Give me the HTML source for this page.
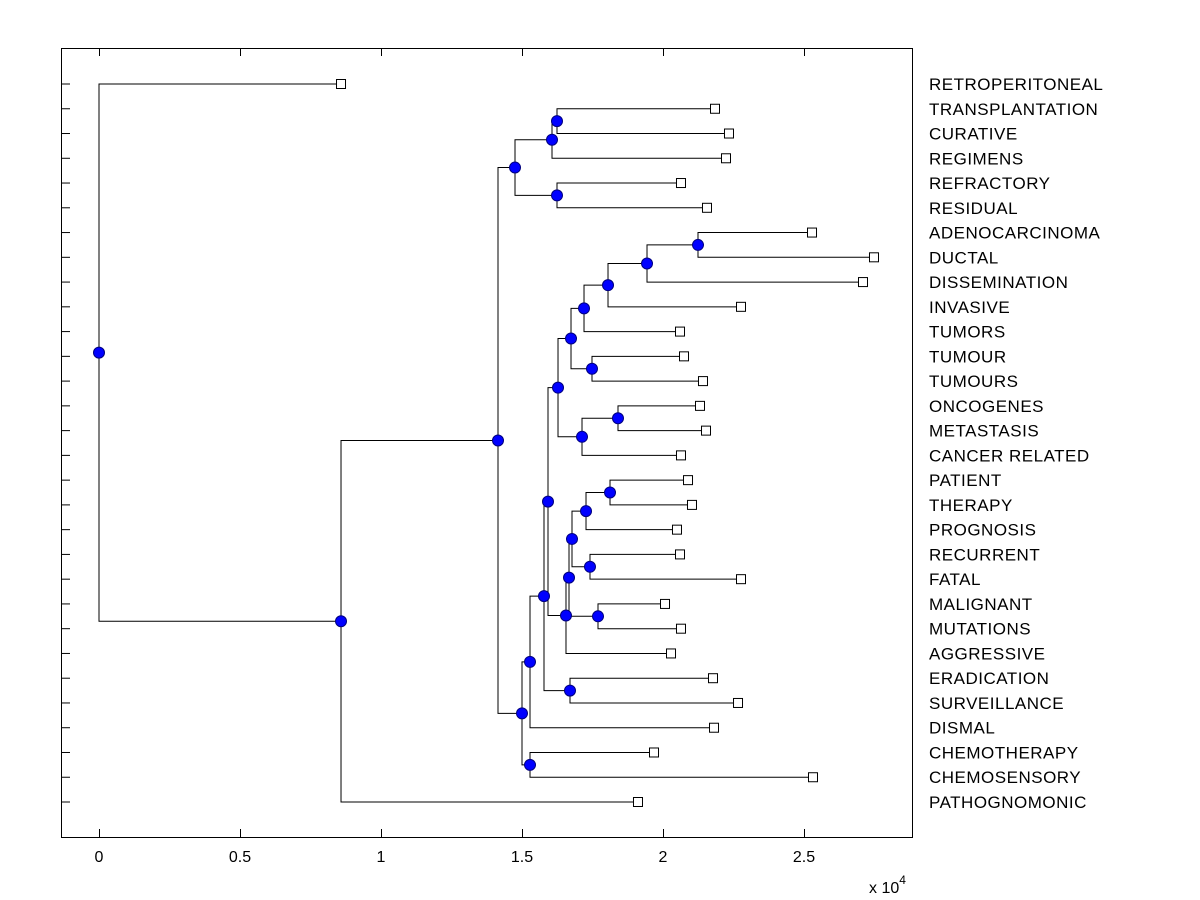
<!DOCTYPE html>
<html><head><meta charset="utf-8"><style>
body{margin:0;background:#fff;}
svg{display:block;font-family:"Liberation Sans",Arial,sans-serif;}
</style></head><body>
<svg id="chart" width="1200" height="900" viewBox="0 0 1200 900">
<rect x="0" y="0" width="1200" height="900" fill="#fff"/>
<g id="lines"></g>
<g id="marks"></g>
<g id="axes"></g>
</svg>
<script>
const leafLabels = ["RETROPERITONEAL","TRANSPLANTATION","CURATIVE","REGIMENS","REFRACTORY","RESIDUAL","ADENOCARCINOMA","DUCTAL","DISSEMINATION","INVASIVE","TUMORS","TUMOUR","TUMOURS","ONCOGENES","METASTASIS","CANCER RELATED","PATIENT","THERAPY","PROGNOSIS","RECURRENT","FATAL","MALIGNANT","MUTATIONS","AGGRESSIVE","ERADICATION","SURVEILLANCE","DISMAL","CHEMOTHERAPY","CHEMOSENSORY","PATHOGNOMONIC"];
const leafValues = [8582,21844,22340,22234,20638,21560,25284,27482,27092,22766,20603,20745,21418,21312,21525,20638,20887,21028,20496,20603,22766,20071,20638,20284,21773,22660,21809,19681,25319,19113];
const nodeNames = ["a","b","c","d","e","f","g","h","i","j","k","l","m","n","o","p","q","r","s","t","u","v","w","x","y","z","aa","bb","root"];
const nodeChildren = [[1,2],["a",3],[4,5],["b","c"],[6,7],["e",8],["f",9],["g",10],[11,12],["h","i"],[13,14],["k",15],["j","l"],[16,17],["n",18],[19,20],["o","p"],[21,22],["q","r"],["s",23],["m","t"],[24,25],["u","v"],["w",26],[27,28],["x","y"],["d","z"],["aa",29],[0,"bb"]];
const nodeValues = [16241,16064,16241,14752,21241,19433,18050,17199,17482,16738,18404,17128,16277,18121,17270,17411,16773,17695,16667,16560,15922,16702,15780,15284,15284,15000,14149,8582,0];
const xTicks = [0,5000,10000,15000,20000,25000];
const xTickLabels = ["0","0.5","1","1.5","2","2.5"];

const NS="http://www.w3.org/2000/svg";
const X0=61,X1=912,Y0=48,Y1=837;
const xs=v=>99+v*282/10000;
const ys=i=>84+i*(802-84)/29;
function mk(tag,attrs,parent){const e=document.createElementNS(NS,tag);for(const k in attrs)e.setAttribute(k,attrs[k]);parent.appendChild(e);return e;}
const L=document.getElementById('lines'),M=document.getElementById('marks'),A=document.getElementById('axes');
const pos={};
leafValues.forEach((v,i)=>{pos[i]={x:xs(v),y:ys(i)};});
nodeNames.forEach((n,k)=>{
  const [c1,c2]=nodeChildren[k];const p1=pos[c1],p2=pos[c2];
  const x=xs(nodeValues[k]);const y=(p1.y+p2.y)/2;pos[n]={x,y};
  const pth=mk('path',{d:`M${p1.x},${p1.y}H${x}V${p2.y}H${p2.x}`,fill:'none',stroke:'#000','stroke-width':1},L);
  
  
});
leafValues.forEach((v,i)=>{
  const r=mk('rect',{x:xs(v)-4.5,y:ys(i)-4.5,width:9,height:9,fill:'#fff',stroke:'#000','stroke-width':1},M);
  
  
  const t=mk('text',{x:929,y:ys(i)+6,'font-size':17,'letter-spacing':0.5,fill:'#000'},A);
  t.textContent=leafLabels[i];
  
  
  const tk=mk('line',{x1:X0,x2:X0+9,y1:ys(i),y2:ys(i),stroke:'#000'},A);
  
  
});
nodeNames.forEach(n=>{
  const c=mk('circle',{cx:pos[n].x,cy:pos[n].y,r:5.5,fill:'#0000ff',stroke:'#00007f','stroke-width':1},M);
  
  
});
const box=mk('rect',{x:X0+0.5,y:Y0+0.5,width:X1-X0,height:Y1-Y0,fill:'none',stroke:'#000'},A);


xTicks.forEach((v,i)=>{
  const x=Math.round(xs(v))+0.5;
  const t1=mk('line',{x1:x,x2:x,y1:Y1,y2:Y1-8,stroke:'#000'},A);
  
  
  const t2=mk('line',{x1:x,x2:x,y1:Y0,y2:Y0+8,stroke:'#000'},A);
  
  
  const tl=mk('text',{x:xs(v),y:862,'font-size':16,'text-anchor':'middle',fill:'#000'},A);
  tl.textContent=xTickLabels[i];
  
  
});
const ex=mk('text',{x:869,y:893,'font-size':16,fill:'#000'},A);


ex.innerHTML='x 10<tspan dy="-9" font-size="12">4</tspan>';
</script>
</body></html>
